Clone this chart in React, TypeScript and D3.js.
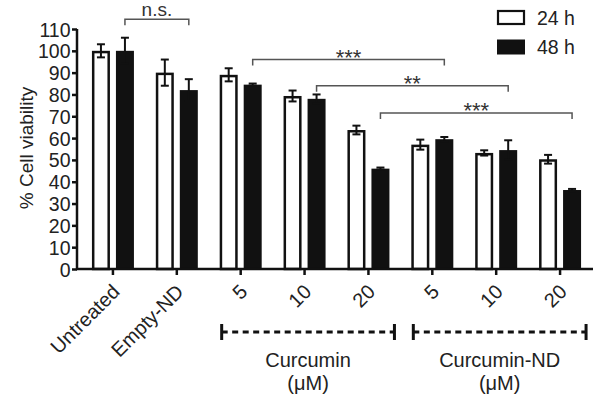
import React, { useEffect, useRef } from "react";
import * as d3 from "d3";

// chart values
const groupIds = ["untreated", "empty", "cur5", "cur10", "cur20", "nd5", "nd10", "nd20"];
const tickLabels = ["Untreated", "Empty-ND", "5", "10", "20", "5", "10", "20"];
const series = ["24 h", "48 h"];
const mean24 = [100, 90, 89, 79.3, 63.7, 57, 53.2, 50.3];
const err24 = [3, 6, 3, 2.5, 2, 2.3, 1.2, 2];
const mean48 = [100, 82, 84.5, 78, 46, 59.5, 54.5, 36.2];
const err48 = [6, 5, 0.5, 2, 0.5, 1, 4.5, 0.5];
const yTicks = [0, 10, 20, 30, 40, 50, 60, 70, 80, 90, 100, 110];

// significance brackets (between 48 h bars)
const sigFrom = [0, 2, 3, 4];
const sigTo = [1, 5, 6, 7];
const sigLevel = [114.5, 96, 84, 71.5];
const sigText = ["n.s.", "***", "**", "***"];

// treatment groups under the axis
const treatNames = ["Curcumin", "Curcumin-ND"];
const treatFrom = [2, 5];
const treatTo = [4, 7];

const FONT = "'Liberation Sans', Arial, Helvetica, sans-serif";

export default function App() {
  const ref = useRef<SVGSVGElement | null>(null);

  useEffect(() => {
    const svg = d3.select(ref.current);
    svg.selectAll("*").remove();

    const axisX = 77;
    const axisY = 269;
    const right = 593;

    const y = d3.scaleLinear().domain([0, 110]).range([axisY, 29]);
    const x = d3.scaleBand().domain(groupIds).range([81, 592]).paddingInner(0).paddingOuter(0);
    const xs = d3.scaleBand().domain(series).range([-21, 21]).paddingInner(0.25).paddingOuter(0);
    const center = (i: number) => (x(groupIds[i]) as number) + x.bandwidth() / 2;

    const g = svg.append("g");

    // bars
    const rows = groupIds.map((id, i) => ({ i, vals: [mean24[i], mean48[i]], errs: [err24[i], err48[i]] }));
    rows.forEach((r) => {
      series.forEach((s, k) => {
        const x0 = center(r.i) + (xs(s) as number);
        const w = xs.bandwidth();
        if (k === 0) {
          g.append("rect")
            .attr("x", x0 + 1.25)
            .attr("y", y(r.vals[k]) + 1.25)
            .attr("width", w - 2.5)
            .attr("height", axisY - y(r.vals[k]) - 1.25)
            .attr("fill", "#fff")
            .attr("stroke", "#111")
            .attr("stroke-width", 2.5);
        } else {
          g.append("rect")
            .attr("x", x0)
            .attr("y", y(r.vals[k]))
            .attr("width", w)
            .attr("height", axisY - y(r.vals[k]))
            .attr("fill", "#111");
        }
        // error bar
        const cx = x0 + w / 2;
        const top = y(r.vals[k] + r.errs[k]);
        const bot = y(r.vals[k] - r.errs[k]);
        const col = "#111";
        g.append("line").attr("x1", cx).attr("x2", cx).attr("y1", top).attr("y2", bot)
          .attr("stroke", col).attr("stroke-width", 2);
        [top, bot].forEach((yy) => {
          g.append("line").attr("x1", cx - 4).attr("x2", cx + 4).attr("y1", yy).attr("y2", yy)
            .attr("stroke", col).attr("stroke-width", 2);
        });
      });
    });

    // y axis
    const yAxis = d3.axisLeft(y).tickValues(yTicks).tickSize(5).tickPadding(1.5);
    const ya = svg.append("g").attr("transform", `translate(${axisX},0)`).call(yAxis);
    ya.select(".domain").attr("stroke", "#111").attr("stroke-width", 2.5)
      .attr("d", `M0,${axisY + 1}V${y(110)}`);
    ya.selectAll(".tick line").attr("stroke", "#111").attr("stroke-width", 2.5);
    ya.selectAll(".tick text").attr("font-family", FONT).attr("font-size", 19.5).attr("fill", "#222")
      .attr("dy", "0.36em");

    // x axis
    const xAxis = d3.axisBottom(x).tickSize(6).tickFormat(() => "");
    const xa = svg.append("g").attr("transform", `translate(0,${axisY})`).call(xAxis);
    xa.select(".domain").attr("stroke", "#111").attr("stroke-width", 2.5)
      .attr("d", `M${axisX - 1},0H${right}`);
    xa.selectAll(".tick line").attr("stroke", "#111").attr("stroke-width", 2.5);

    // rotated category labels
    groupIds.forEach((id, i) => {
      svg.append("text")
        .attr("transform", `translate(${center(i) + 8},${axisY + 24}) rotate(-45)`)
        .attr("text-anchor", "end")
        .attr("font-family", FONT)
        .attr("font-size", 20)
        .attr("fill", "#222")
        .text(tickLabels[i]);
    });

    // significance brackets
    sigFrom.forEach((a, j) => {
      const xa1 = center(a) + (xs("48 h") as number) + xs.bandwidth() / 2;
      const xb1 = center(sigTo[j]) + (xs("48 h") as number) + xs.bandwidth() / 2;
      const yy = y(sigLevel[j]);
      svg.append("path")
        .attr("d", `M${xa1},${yy + 6}V${yy}H${xb1}V${yy + 6}`)
        .attr("fill", "none")
        .attr("stroke", "#555")
        .attr("stroke-width", 1.5);
      const isStar = sigText[j] !== "n.s.";
      svg.append("text")
        .attr("x", (xa1 + xb1) / 2)
        .attr("y", isStar ? yy + 5 : yy - 3)
        .attr("text-anchor", "middle")
        .attr("font-family", FONT)
        .attr("font-size", isStar ? 22 : 19)
        .attr("fill", "#333")
        .text(sigText[j]);
    });

    // treatment group markers
    treatNames.forEach((name, j) => {
      const x1 = center(treatFrom[j]) - 19;
      const x2 = center(treatTo[j]) + 26;
      const yy = 332;
      svg.append("line").attr("x1", x1).attr("x2", x2).attr("y1", yy).attr("y2", yy)
        .attr("stroke", "#111").attr("stroke-width", 3).attr("stroke-dasharray", "6,4.5");
      [x1, x2].forEach((xx) => {
        svg.append("line").attr("x1", xx).attr("x2", xx).attr("y1", yy - 8).attr("y2", yy + 8)
          .attr("stroke", "#111").attr("stroke-width", 3);
      });
      const mid = (x1 + x2) / 2;
      svg.append("text").attr("x", mid).attr("y", 367).attr("text-anchor", "middle")
        .attr("font-family", FONT).attr("font-size", 20).attr("fill", "#222").text(name);
      svg.append("text").attr("x", mid).attr("y", 390).attr("text-anchor", "middle")
        .attr("font-family", FONT).attr("font-size", 20).attr("fill", "#222").text("(\u03bcM)");
    });

    // y label
    svg.append("text")
      .attr("transform", `translate(33,148) rotate(-90)`)
      .attr("text-anchor", "middle")
      .attr("font-family", FONT)
      .attr("font-size", 19)
      .attr("fill", "#222")
      .text("% Cell viability");

    // legend
    series.forEach((s, k) => {
      const ly = 10 + k * 29.5;
      svg.append("rect")
        .attr("x", k === 0 ? 498 : 497)
        .attr("y", k === 0 ? ly + 1 : ly)
        .attr("width", k === 0 ? 26 : 28)
        .attr("height", k === 0 ? 13 : 15)
        .attr("fill", k === 0 ? "#fff" : "#111")
        .attr("stroke", k === 0 ? "#111" : "none")
        .attr("stroke-width", 2.2);
      svg.append("text")
        .attr("x", 537)
        .attr("y", ly + 14.5)
        .attr("font-family", FONT)
        .attr("font-size", 19.5)
        .attr("fill", "#222")
        .text(s);
    });
  }, []);

  return (
    <svg
      ref={ref}
      width={602}
      height={401}
      style={{ position: "absolute", left: 0, top: 0, background: "#fff" }}
    />
  );
}
